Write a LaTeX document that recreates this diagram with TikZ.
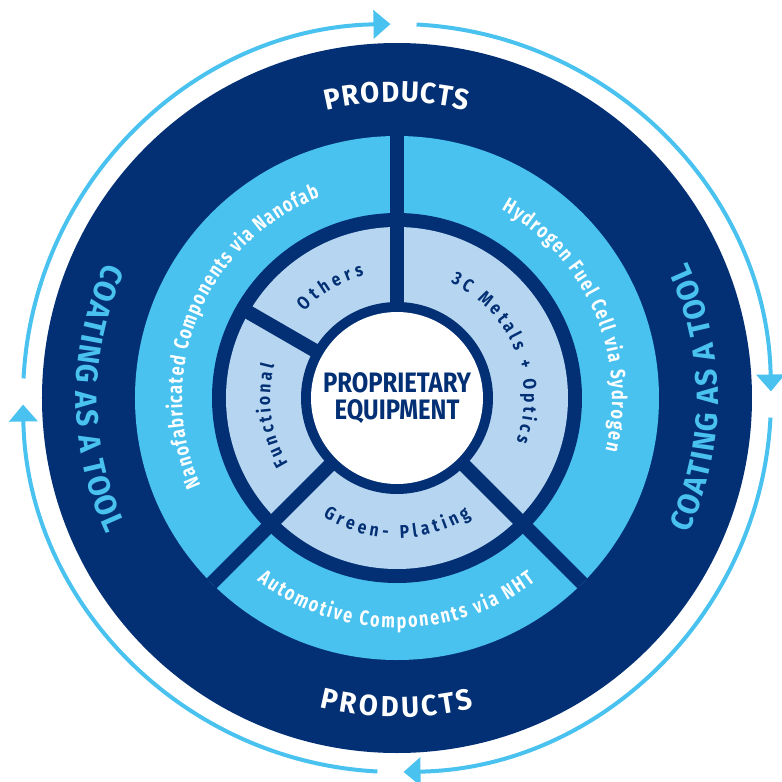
\documentclass[tikz,border=0pt]{standalone}
\usepackage{fontspec}
\setmainfont{Fira Sans}[FakeStretch=0.85]
\newfontfamily\widefam{Fira Sans}[FakeStretch=0.95]
\newfontfamily\narrowfam{Fira Sans}[FakeStretch=0.78]
\usetikzlibrary{arrows.meta,decorations.text}
\definecolor{navy}{RGB}{3,48,116}
\definecolor{sky}{RGB}{74,194,240}
\definecolor{pale}{RGB}{182,213,240}
\newcommand\loopfont{\widefam\bfseries\fontsize{17.5pt}{17.5pt}\selectfont}
\newcommand\prodfont{\widefam\bfseries\fontsize{16.5pt}{16.5pt}\selectfont}
\newcommand\bandfont{\narrowfam\bfseries\fontsize{11.8pt}{11.8pt}\selectfont}
\newcommand\segfont{\bfseries\fontsize{10.5pt}{10.5pt}\selectfont}
\newcommand\corefont{\bfseries\fontsize{16pt}{15.3pt}\selectfont}
\tikzset{
    arctext/.style={decorate, decoration={text along path, text align={fit to path}, text color=#1}},
    divider/.style={navy, line width=0.28cm},
    cyclearrow/.style={sky, line width=0.08cm, -{Triangle[length=0.34cm, width=0.56cm]}},
}
\begin{document}
\begin{tikzpicture}[x=0.02cm, y=0.02cm]
        \path[use as bounding box, fill=white] (-397,-384) rectangle (385,398);
        \fill[navy] (0,0) circle[radius=355];
        \fill[sky] (0,0) circle[radius=262];
        \fill[navy] (0,0) circle[radius=185];
        \fill[pale] (0,0) circle[radius=171];
        \fill[navy] (0,0) circle[radius=96];
        \fill[white] (0,0) circle[radius=86];
        \foreach \a in {90,225,315}
            \draw[divider] (\a:90) -- (\a:262);
        \draw[divider] (150:90) -- (150:175);
        \foreach \a in {180,90,0,-90}
            \draw[cyclearrow] ({\a-3}:374) arc[start angle=\a-3, end angle=\a-89, radius=374];
        \path[arctext=white, decoration={text={|\prodfont|PRODUCTS}}] (103.7:296) arc[start angle=103.7, end angle=76.3, radius=296];
        \path[arctext=white, decoration={text={|\prodfont|PRODUCTS}}] (256:319) arc[start angle=256, end angle=284, radius=319];
        \path[arctext=sky, decoration={text={|\loopfont|COATING AS A TOOL}}] (155:321) arc[start angle=155, end angle=205, radius=321];
        \path[arctext=sky, decoration={text={|\loopfont|COATING AS A TOOL}}] (-25:321) arc[start angle=-25, end angle=25, radius=321];
        \path[arctext=white, decoration={text={|\bandfont|Nanofabricated Components via Nanofab}}] (204:215) arc[start angle=204, end angle=111, radius=215];
        \path[arctext=white, decoration={text={|\bandfont|Hydrogen Fuel Cell via Sydrogen}}] (61:215) arc[start angle=61, end angle=-14, radius=215];
        \path[arctext=white, decoration={text={|\bandfont|Automotive Components via NHT}}] (232.5:230) arc[start angle=232.5, end angle=307, radius=230];
        \path[arctext=navy, decoration={text={|\segfont|Others}}] (137:127) arc[start angle=137, end angle=105, radius=127];
        \path[arctext=navy, decoration={text={|\segfont|3C Metals + Optics}}] (65:127) arc[start angle=65, end angle=-20, radius=127];
        \path[arctext=navy, decoration={text={|\segfont|Functional}}] (211:127) arc[start angle=211, end angle=165, radius=127];
        \path[arctext=navy, decoration={text={|\segfont|Green- Plating}}] (238:140) arc[start angle=238, end angle=302, radius=140];
        \node[text=navy, font=\corefont, align=center] (core) at (0,0) {PROPRIETARY\\EQUIPMENT};
\end{tikzpicture}
\end{document}
